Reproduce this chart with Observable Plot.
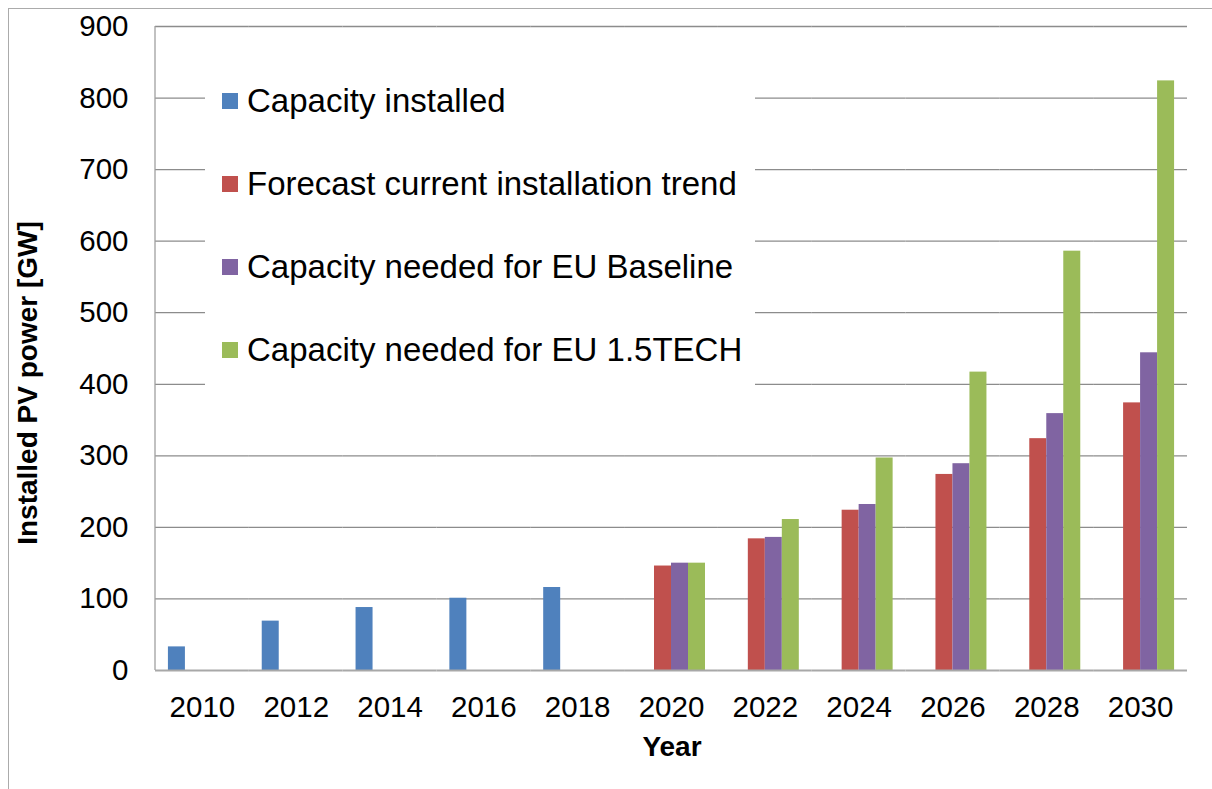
<!DOCTYPE html>
<html>
<head>
<meta charset="utf-8">
<script src="https://cdn.jsdelivr.net/npm/d3@7"></script>
<script src="https://cdn.jsdelivr.net/npm/@observablehq/plot@0.6"></script>
<style>
  html, body { margin: 0; padding: 0; background: #fff; }
  #wrap { position: relative; width: 1212px; height: 789px; overflow: hidden; font-family: "Liberation Sans", Arial, sans-serif; color: #000; }
  #wrap svg { position: absolute; left: 0; top: 0; }
  #border { position: absolute; left: 8px; top: 8px; width: 1240px; height: 820px; border: 1.5px solid #ababab; box-sizing: border-box; }
  #legend { position: absolute; left: 205px; top: 40px; width: 550px; height: 356px; background: #fff; }
  .row { position: absolute; left: 17px; height: 40px; display: flex; align-items: center; white-space: nowrap; font-size: 33px; }
  .sw { width: 16px; height: 16px; margin-right: 9px; flex: none; }
  #ytitle { position: absolute; left: 28px; top: 383px; transform: translate(-50%, -50%) rotate(-90deg); font-weight: bold; font-size: 28px; white-space: nowrap; line-height: 32px; }
  #xtitle { position: absolute; left: 672px; top: 731px; transform: translateX(-50%); font-weight: bold; font-size: 28px; white-space: nowrap; line-height: 32px; }
</style>
</head>
<body>
<div id="wrap"></div>
<script>
// ---- data ----
const years = [2010, 2012, 2014, 2016, 2018, 2020, 2022, 2024, 2026, 2028, 2030];
const seriesNames = [
  "Capacity installed",
  "Forecast current installation trend",
  "Capacity needed for EU Baseline",
  "Capacity needed for EU 1.5TECH"
];
const seriesColors = ["#4F81BD", "#C0504D", "#8064A2", "#9BBB59"];
const capacityInstalled = [33, 69, 88, 101, 116, null, null, null, null, null, null];
const forecastTrend     = [null, null, null, null, null, 146, 184, 224, 274, 324, 374];
const euBaseline        = [null, null, null, null, null, 150, 186, 232, 289, 359, 444];
const eu15Tech          = [null, null, null, null, null, 150, 211, 297, 417, 586, 824];
const yTicks = [0, 100, 200, 300, 400, 500, 600, 700, 800, 900];
const yTitle = "Installed PV power [GW]";
const xTitle = "Year";

const seriesValues = [capacityInstalled, forecastTrend, euBaseline, eu15Tech];
const table = [];
years.forEach((yr, i) => {
  seriesNames.forEach((s, j) => {
    const v = seriesValues[j][i];
    if (v != null) table.push({year: yr, series: s, value: v});
  });
});

const font = '"Liberation Sans", Arial, sans-serif';
const chart = Plot.plot({
  width: 1212,
  height: 789,
  marginLeft: 155,
  marginRight: 25,
  marginTop: 26,
  marginBottom: 119,
  style: {fontFamily: font, fontSize: "29.5px", background: "transparent", color: "#000"},
  fx: {domain: years, padding: 0, round: false, label: null, axis: "bottom", tickSize: 0, tickPadding: 26, tickFormat: d => String(d)},
  x: {domain: seriesNames, paddingInner: 0, paddingOuter: 0.76, round: false, axis: null},
  y: {domain: [0, 900], label: null},
  color: {domain: seriesNames, range: seriesColors},
  marks: [
    Plot.gridY(yTicks.filter(t => t > 0), {stroke: "#8c8c8c", strokeOpacity: 1, strokeWidth: 1.3}),
    Plot.barY(table, {fx: "year", x: "series", y: "value", fill: "series"}),
    Plot.ruleY([0], {stroke: "#a8a8a8", strokeWidth: 2.2}),
    Plot.axisY(yTicks, {tickSize: 0, tickPadding: 27, fontSize: 29.5, label: null})
  ]
});

const wrap = document.getElementById("wrap");
const border = document.createElement("div");
border.id = "border";
wrap.appendChild(border);
wrap.appendChild(chart);

// left axis line of the plot area
const ys = chart.scale("y");
d3.select(chart).append("line")
  .attr("x1", 155).attr("x2", 155)
  .attr("y1", ys.apply(900)).attr("y2", ys.apply(0))
  .attr("stroke", "#a0a0a0").attr("stroke-width", 1.3);

// legend
const legend = document.createElement("div");
legend.id = "legend";
const rowCenters = [61, 144, 227, 310];
seriesNames.forEach((s, i) => {
  const row = document.createElement("div");
  row.className = "row";
  row.style.top = (rowCenters[i] - 20) + "px";
  const sw = document.createElement("div");
  sw.className = "sw";
  sw.style.background = seriesColors[i];
  const tx = document.createElement("span");
  tx.textContent = s;
  row.appendChild(sw);
  row.appendChild(tx);
  legend.appendChild(row);
});
wrap.appendChild(legend);

const yt = document.createElement("div");
yt.id = "ytitle";
yt.textContent = yTitle;
wrap.appendChild(yt);

const xt = document.createElement("div");
xt.id = "xtitle";
xt.textContent = xTitle;
wrap.appendChild(xt);
</script>
</body>
</html>
